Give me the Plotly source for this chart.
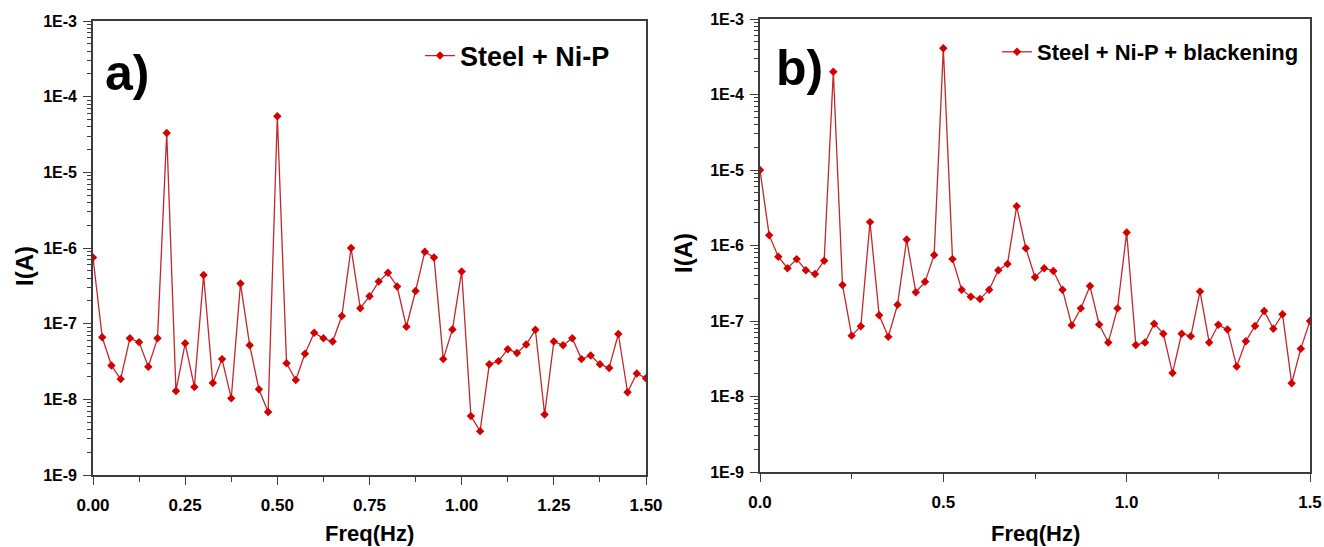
import plotly.graph_objects as go

W, H = 1324, 547

freq = [0.000, 0.025, 0.050, 0.075, 0.100, 0.125, 0.150, 0.175, 0.200, 0.225,
        0.250, 0.275, 0.300, 0.325, 0.350, 0.375, 0.400, 0.425, 0.450, 0.475,
        0.500, 0.525, 0.550, 0.575, 0.600, 0.625, 0.650, 0.675, 0.700, 0.725,
        0.750, 0.775, 0.800, 0.825, 0.850, 0.875, 0.900, 0.925, 0.950, 0.975,
        1.000, 1.025, 1.050, 1.075, 1.100, 1.125, 1.150, 1.175, 1.200, 1.225,
        1.250, 1.275, 1.300, 1.325, 1.350, 1.375, 1.400, 1.425, 1.450, 1.475,
        1.500]

i_nip = [7.5e-7, 6.6e-8, 2.8e-8, 1.85e-8, 6.4e-8, 5.7e-8, 2.7e-8, 6.4e-8, 3.3e-5, 1.29e-8,
         5.5e-8, 1.46e-8, 4.4e-7, 1.64e-8, 3.4e-8, 1.03e-8, 3.4e-7, 5.2e-8, 1.36e-8, 6.8e-9,
         5.5e-5, 3.0e-8, 1.8e-8, 4.0e-8, 7.6e-8, 6.4e-8, 5.8e-8, 1.26e-7, 1.0e-6, 1.6e-7,
         2.3e-7, 3.6e-7, 4.7e-7, 3.1e-7, 9.1e-8, 2.7e-7, 8.9e-7, 7.5e-7, 3.4e-8, 8.4e-8,
         4.9e-7, 6.0e-9, 3.8e-9, 2.9e-8, 3.2e-8, 4.6e-8, 4.1e-8, 5.3e-8, 8.3e-8, 6.3e-9,
         5.8e-8, 5.2e-8, 6.4e-8, 3.4e-8, 3.8e-8, 2.9e-8, 2.6e-8, 7.3e-8, 1.24e-8, 2.2e-8,
         1.9e-8]

i_black = [1.0e-5, 1.37e-6, 7.1e-7, 5.0e-7, 6.6e-7, 4.7e-7, 4.2e-7, 6.3e-7, 2.0e-4, 3.0e-7,
           6.4e-8, 8.5e-8, 2.04e-6, 1.19e-7, 6.2e-8, 1.64e-7, 1.2e-6, 2.4e-7, 3.3e-7, 7.5e-7,
           4.1e-4, 6.6e-7, 2.6e-7, 2.1e-7, 1.95e-7, 2.6e-7, 4.7e-7, 5.7e-7, 3.3e-6, 9.2e-7,
           3.8e-7, 5.0e-7, 4.6e-7, 2.6e-7, 8.8e-8, 1.47e-7, 2.9e-7, 9.0e-8, 5.2e-8, 1.47e-7,
           1.49e-6, 4.8e-8, 5.2e-8, 9.2e-8, 6.8e-8, 2.04e-8, 6.8e-8, 6.3e-8, 2.46e-7, 5.2e-8,
           8.9e-8, 7.7e-8, 2.5e-8, 5.4e-8, 8.6e-8, 1.36e-7, 7.9e-8, 1.23e-7, 1.5e-8, 4.3e-8,
           1.0e-7]

name_a = "Steel + Ni-P"
name_b = "Steel + Ni-P + blackening"

y_tickvals = [1e-9, 1e-8, 1e-7, 1e-6, 1e-5, 1e-4, 1e-3]
y_ticktext = ["1E-9", "1E-8", "1E-7", "1E-6", "1E-5", "1E-4", "1E-3"]
y_minor = [m * 10.0 ** e for e in range(-9, -3) for m in range(2, 10)]

xa_tickvals = [0.0, 0.25, 0.5, 0.75, 1.0, 1.25, 1.5]
xa_ticktext = ["0.00", "0.25", "0.50", "0.75", "1.00", "1.25", "1.50"]
xa_minor = [0.125, 0.375, 0.625, 0.875, 1.125, 1.375]
xb_tickvals = [0.0, 0.5, 1.0, 1.5]
xb_ticktext = ["0.0", "0.5", "1.0", "1.5"]
xb_minor = [0.25, 0.75, 1.25]

FONT = "Liberation Sans, Arial, sans-serif"
LINE_C = "#c0282d"
MARK_C = "#d40000"
AX_C = "#3c3c3c"

fig = go.Figure()
fig.add_trace(go.Scatter(x=freq, y=i_nip, mode="lines+markers", name=name_a,
                         line=dict(color=LINE_C, width=1.3),
                         marker=dict(symbol="diamond", size=6.5, color=MARK_C),
                         xaxis="x", yaxis="y", legend="legend"))
fig.add_trace(go.Scatter(x=freq, y=i_black, mode="lines+markers", name=name_b,
                         line=dict(color=LINE_C, width=1.3),
                         marker=dict(symbol="diamond", size=6.5, color=MARK_C),
                         xaxis="x2", yaxis="y2", legend="legend2"))

def px_x(p):
    return p / W

def px_y(p):
    return 1 - p / H

common_axis = dict(showline=True, linecolor=AX_C, linewidth=1.6, mirror=True,
                   showgrid=False, zeroline=False, ticks="outside", tickcolor=AX_C,
                   tickwidth=1.4, ticklen=8, automargin=False)

xdomA = [px_x(93), px_x(646)]
xdomB = [px_x(760), px_x(1310)]
ydomA = [px_y(475), px_y(21)]
ydomB = [px_y(472), px_y(19)]

fig.update_layout(
    width=W, height=H,
    margin=dict(l=0, r=0, t=0, b=0),
    paper_bgcolor="white", plot_bgcolor="white",
    font=dict(family=FONT, color="black"),
    xaxis=dict(domain=xdomA, anchor="y", range=[0, 1.5], tickmode="array",
               tickvals=xa_tickvals, ticktext=xa_ticktext,
               tickfont=dict(size=17, family=FONT, weight="bold"),
               ticklabelstandoff=6,
               minor=dict(tickmode="array", tickvals=xa_minor, ticks="outside",
                          ticklen=5, tickcolor=AX_C, tickwidth=1.2),
               **common_axis),
    yaxis=dict(domain=ydomA, anchor="x", type="log", range=[-9, -3], tickmode="array",
               tickvals=y_tickvals, ticktext=y_ticktext,
               tickfont=dict(size=16, family=FONT, weight="bold"),
               ticklabelstandoff=3,
               minor=dict(tickmode="array", tickvals=y_minor, ticks="outside",
                          ticklen=4, tickcolor=AX_C, tickwidth=1.0),
               **common_axis),
    xaxis2=dict(domain=xdomB, anchor="y2", range=[0, 1.5], tickmode="array",
                tickvals=xb_tickvals, ticktext=xb_ticktext,
                tickfont=dict(size=17, family=FONT, weight="bold"),
                ticklabelstandoff=6,
                minor=dict(tickmode="array", tickvals=xb_minor, ticks="outside",
                           ticklen=5, tickcolor=AX_C, tickwidth=1.2),
                **common_axis),
    yaxis2=dict(domain=ydomB, anchor="x2", type="log", range=[-9, -3], tickmode="array",
                tickvals=y_tickvals, ticktext=y_ticktext,
                tickfont=dict(size=16, family=FONT, weight="bold"),
                ticklabelstandoff=3,
                minor=dict(tickmode="array", tickvals=y_minor, ticks="outside",
                           ticklen=4, tickcolor=AX_C, tickwidth=1.0),
                **common_axis),
    legend=dict(x=px_x(420), y=px_y(56), xanchor="left", yanchor="middle",
                bgcolor="rgba(0,0,0,0)", borderwidth=0,
                font=dict(size=27, family=FONT, weight="bold", color="black")),
    legend2=dict(x=px_x(997), y=px_y(52), xanchor="left", yanchor="middle",
                 bgcolor="rgba(0,0,0,0)", borderwidth=0,
                 font=dict(size=22, family=FONT, weight="bold", color="black")),
    showlegend=True,
)

annos = [
    dict(text="a)", x=px_x(127), y=px_y(73), font=dict(size=50, weight="bold")),
    dict(text="b)", x=px_x(799), y=px_y(68), font=dict(size=50, weight="bold")),
    dict(text="Freq(Hz)", x=px_x(369), y=px_y(533), font=dict(size=22, weight="bold")),
    dict(text="Freq(Hz)", x=px_x(1035), y=px_y(533), font=dict(size=22, weight="bold")),
    dict(text="I(A)", x=px_x(24), y=px_y(266), textangle=-90, font=dict(size=24, weight="bold")),
    dict(text="I(A)", x=px_x(683), y=px_y(253), textangle=-90, font=dict(size=24, weight="bold")),
]
for a in annos:
    a.update(xref="paper", yref="paper", showarrow=False, xanchor="center", yanchor="middle")
    a["font"].update(family=FONT, color="black")
fig.update_layout(annotations=annos)

fig.write_html("out.html", config={"displayModeBar": False},
               post_script="document.body.style.margin='0';document.body.style.padding='0';document.body.style.overflow='hidden';")
